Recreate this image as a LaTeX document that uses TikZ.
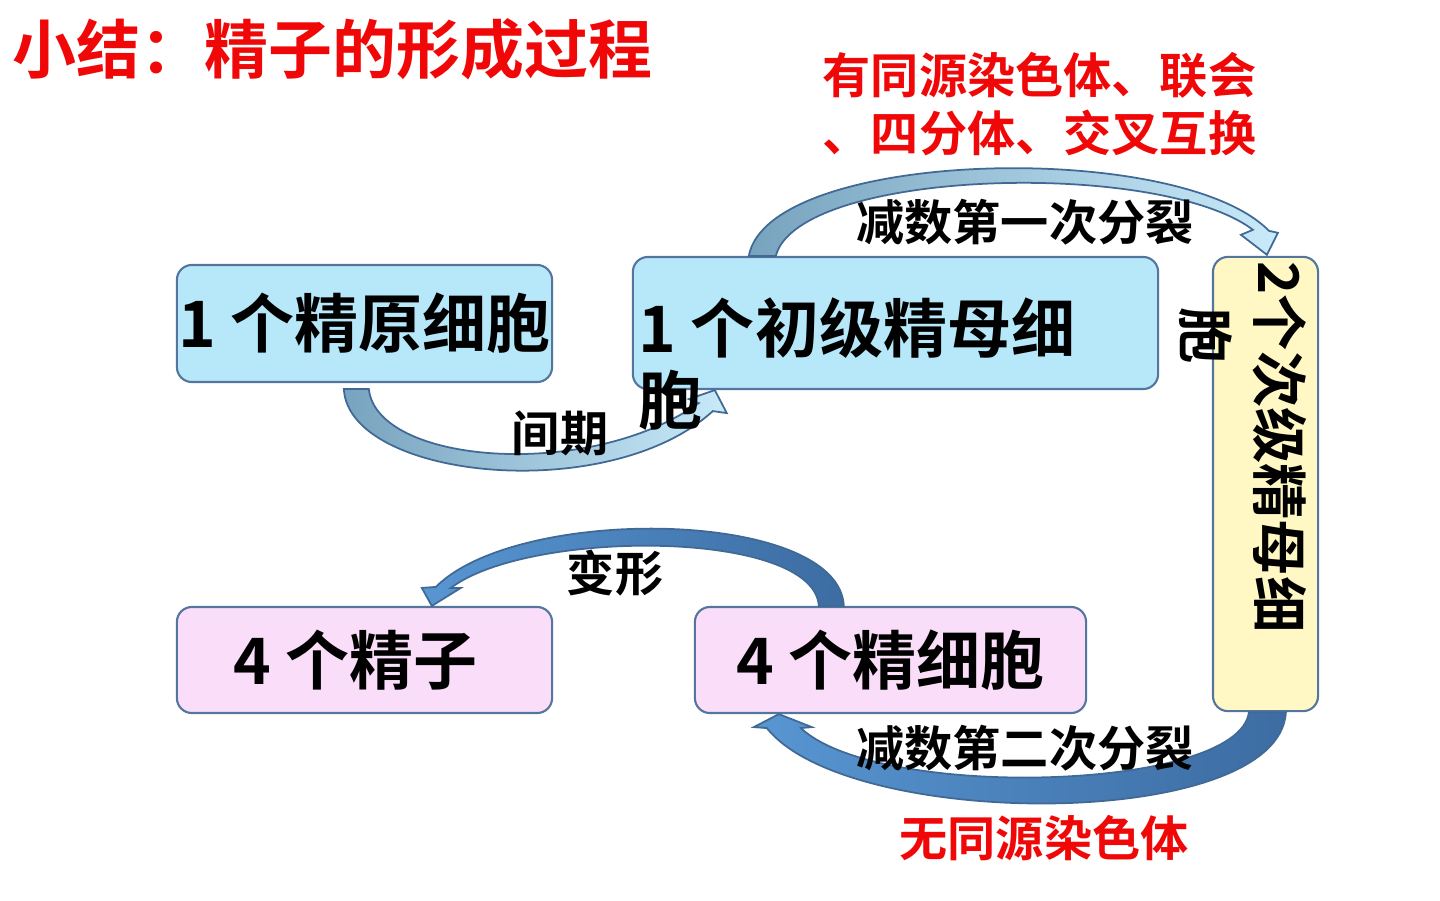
\documentclass[tikz,border=0pt]{standalone}
\usepackage{fontspec}
\setmainfont{Noto Sans CJK SC}[BoldFont={Noto Sans CJK SC Bold}]
\usepackage{tikz}
\usetikzlibrary{calc}

\definecolor{cellblue}{RGB}{182,232,250}
\definecolor{cellyellow}{RGB}{255,248,196}
\definecolor{cellpink}{RGB}{250,221,249}
\definecolor{cellline}{RGB}{84,118,158}
\definecolor{titlered}{RGB}{240,8,8}
\definecolor{greyblue}{RGB}{120,163,190}
\definecolor{paleblue}{RGB}{200,234,249}
\definecolor{midblue}{RGB}{88,150,210}
\definecolor{deepblue}{RGB}{60,108,162}
\definecolor{arrowline}{RGB}{65,105,150}

\newcommand{\boxfont}{\bfseries\fontsize{18.2pt}{20.6pt}\selectfont}
\newcommand{\lblfont}{\bfseries\fontsize{13.7pt}{16.5pt}\selectfont}

\begin{document}
\begin{tikzpicture}[x=0.01cm, y=-0.01cm,
	cellbox/.style={draw=cellline, line width=0.6pt, rounded corners=0.15cm, inner sep=0pt, font=\boxfont},
	bandarrow/.style={draw=arrowline, line width=0.5pt},
	lbl/.style={inner sep=0pt, font=\lblfont},
	redlbl/.style={lbl, text=titlered}]
	\useasboundingbox (0,0) rectangle (1440,900);

	% cells
	\node[cellbox, fill=cellblue, minimum width=3.75cm, minimum height=1.17cm] (A) at (364.5,323.5) {1 个精原细胞};
	\node[cellbox, fill=cellblue, minimum width=5.25cm, minimum height=1.32cm] (B) at (895.5,323) {};
	\node[cellbox, fill=cellyellow, minimum width=1.05cm, minimum height=4.54cm] (C) at (1265.5,484) {};
	\node[cellbox, fill=cellpink, minimum width=3.91cm, minimum height=1.06cm] (D) at (890.5,660) {4 个精细胞};
	\node[cellbox, fill=cellpink, minimum width=3.75cm, minimum height=1.06cm] (E) at (364.5,660) {4 个精子\hspace*{5pt}};

	% arrows
	\path[bandarrow, left color=greyblue, right color=paleblue]
		($(A.south west)+(168,6)$) .. controls +(5,90) and +(-104,95) .. ($(B.south west)+(81,21)$)
		-- ++(14,2) -- ($(B.south west)+(83,0)$) -- ++(-26,9) -- ($(B.south west)+(67,13)$)
		.. controls +(-110,78) and +(8,75) .. ($(A.south west)+(193,6)$) -- cycle;
	\path[bandarrow, left color=greyblue, right color=paleblue]
		($(B.north west)+(117,0)$) .. controls +(20,-107) and +(-90,-92) .. ($(C.north west)+(57,-25)$)
		-- ++(9,2) -- ($(C.north west)+(55,-1)$) -- ++(-26,-20) -- ($(C.north west)+(41,-26)$)
		.. controls +(-94,-71) and +(23,-87) .. ($(B.north west)+(144,0)$) -- cycle;
	\path[bandarrow, left color=midblue, right color=deepblue]
		($(C.south west)+(74,0)$) .. controls +(-7,119) and +(82,103) .. ($(D.south west)+(73,14)$)
		-- ++(-13,-1) -- ($(D.south west)+(85,0)$) -- ($(D.south west)+(118,13)$) -- ++(-11,1)
		.. controls +(78,73) and +(-10,79) .. ($(C.south west)+(37,0)$) -- cycle;
	\path[bandarrow, left color=midblue, right color=deepblue]
		($(D.north west)+(150,0)$) .. controls +(-5,-97) and +(83,-83) .. ($(E.north west)+(260,-19)$)
		-- ++(-14,1) -- ($(E.north west)+(256,0)$) -- ($(E.north west)+(285,-18)$) -- ++(-10,0)
		.. controls +(78,-59) and +(-5,-77) .. ($(D.north west)+(125,0)$) -- cycle;

	% cell texts that run past their boxes
	\node[inner sep=0pt, font=\boxfont, align=left, anchor=west] (Btext) at (638,364) {1 个初级精母细\\胞};
	\node[inner sep=0pt, font=\bfseries\fontsize{16pt}{20.8pt}\selectfont, align=left, rotate=-90] (Ctext) at (1243,447) {2个次级精母细\\\hspace*{13pt}胞};

	% labels
	\node[inner sep=0pt, anchor=west, text=titlered, font=\bfseries\fontsize{18.2pt}{21pt}\selectfont] (title) at (12,49) {小结：精子的形成过程};
	\node[redlbl, align=left, anchor=west] (pairing) at (822,104) {有同源染色体、联会\\、四分体、交叉互换};
	\node[lbl] (meiosisone) at (1025,222) {减数第一次分裂};
	\node[lbl] (interphase) at (560,433) {间期};
	\node[lbl] (change) at (615,573) {变形};
	\node[lbl] (meiosistwo) at (1025,748) {减数第二次分裂};
	\node[redlbl] (nohomolog) at (1044,838) {无同源染色体};
\end{tikzpicture}
\end{document}
